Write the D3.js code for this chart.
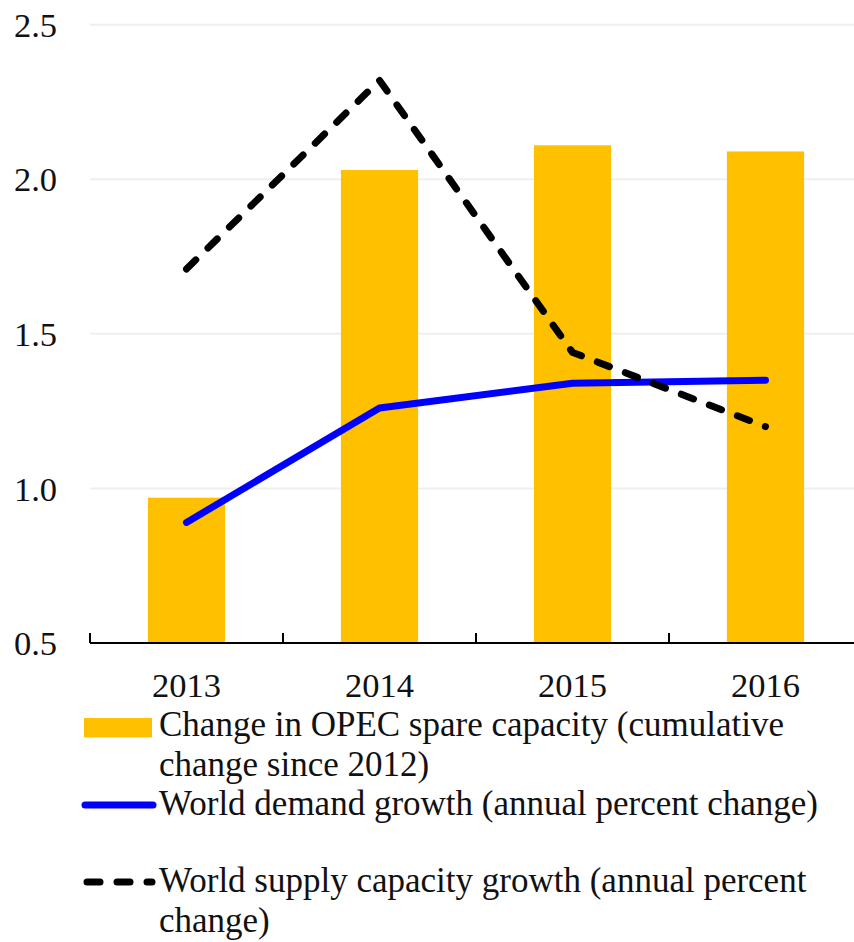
<!DOCTYPE html>
<html><head><meta charset="utf-8">
<script src="https://cdn.jsdelivr.net/npm/d3@7"></script>
<style>body{margin:0;background:#fff}svg{display:block}text{font-family:"Liberation Serif","DejaVu Serif",serif;fill:#111}</style>
</head><body>
<script>
const years = ["2013","2014","2015","2016"];
const spareCapacity = [0.97, 2.03, 2.11, 2.09];
const demandGrowth = [0.89, 1.26, 1.34, 1.35];
const supplyGrowth = [1.71, 2.32, 1.44, 1.20];
const yTicks = [0.5, 1.0, 1.5, 2.0, 2.5];
const legendItems = [
  {type:"bar", lines:["Change in OPEC spare capacity (cumulative","change since 2012)"]},
  {type:"solid", lines:["World demand growth (annual percent change)"]},
  {type:"dash", lines:["World supply capacity growth (annual percent","change)"]}
];

const W=854,H=942;
const svg=d3.select("body").append("svg").attr("width",W).attr("height",H);
const x=d3.scaleBand().domain(years).range([90,862]).paddingInner(0.6).paddingOuter(0.3);
const y=d3.scaleLinear().domain([0.5,2.5]).range([643,24.7]);
const fs=34.5, lfs=35;

// gridlines
svg.append("g").selectAll("line").data(yTicks.slice(1)).join("line")
  .attr("x1",90).attr("x2",W).attr("y1",d=>y(d)).attr("y2",d=>y(d))
  .attr("stroke","#efefef").attr("stroke-width",2);

// y labels
svg.append("g").selectAll("text").data(yTicks).join("text")
  .attr("x",57).attr("y",d=>y(d)).attr("dy","0.35em").attr("text-anchor","end")
  .attr("font-size",fs).text(d=>d3.format(".1f")(d));

// bars
svg.append("g").selectAll("rect").data(years).join("rect")
  .attr("x",d=>x(d)).attr("width",x.bandwidth())
  .attr("y",(d,i)=>y(spareCapacity[i])).attr("height",(d,i)=>y(0.5)-y(spareCapacity[i]))
  .attr("fill","#ffc000");

// axis
svg.append("line").attr("x1",90).attr("x2",W).attr("y1",y(0.5)).attr("y2",y(0.5))
  .attr("stroke","#000").attr("stroke-width",2.2);
const step=x.step();
svg.append("g").selectAll("line").data(d3.range(years.length+1)).join("line")
  .attr("x1",i=>90+i*step).attr("x2",i=>90+i*step)
  .attr("y1",y(0.5)).attr("y2",y(0.5)-10).attr("stroke","#000").attr("stroke-width",2);
svg.append("g").selectAll("text").data(years).join("text")
  .attr("x",d=>x(d)+x.bandwidth()/2).attr("y",697).attr("text-anchor","middle")
  .attr("font-size",fs).text(d=>d);

// lines
const line=d3.line().x((d,i)=>x(years[i])+x.bandwidth()/2).y(d=>y(d));
svg.append("path").datum(demandGrowth).attr("d",line).attr("fill","none")
  .attr("stroke","#0000ff").attr("stroke-width",7).attr("stroke-linecap","round").attr("stroke-linejoin","round");
svg.append("path").datum(supplyGrowth).attr("d",line).attr("fill","none")
  .attr("stroke","#000").attr("stroke-width",7).attr("stroke-linecap","round")
  .attr("stroke-dasharray","13,17");

// legend
const lg=svg.append("g");
const lx=84, lw=68, tx=159;
const itemY=[[736,776],[815],[892,932]];
const markY=[728,805,882];
legendItems.forEach((it,k)=>{
  const my=markY[k];
  if(it.type==="bar") lg.append("rect").attr("x",lx).attr("y",my-10).attr("width",lw).attr("height",19.5).attr("fill","#ffc000");
  else if(it.type==="solid") lg.append("line").attr("x1",lx+1).attr("x2",lx+lw+1).attr("y1",my).attr("y2",my)
    .attr("stroke","#0000ff").attr("stroke-width",7).attr("stroke-linecap","round");
  else lg.append("line").attr("x1",lx+3).attr("x2",lx+lw).attr("y1",my).attr("y2",my)
    .attr("stroke","#000").attr("stroke-width",7).attr("stroke-linecap","round").attr("stroke-dasharray","13,17");
  it.lines.forEach((t,j)=>lg.append("text").attr("x",tx).attr("y",itemY[k][j]).attr("font-size",lfs).text(t));
});
</script>
</body></html>
